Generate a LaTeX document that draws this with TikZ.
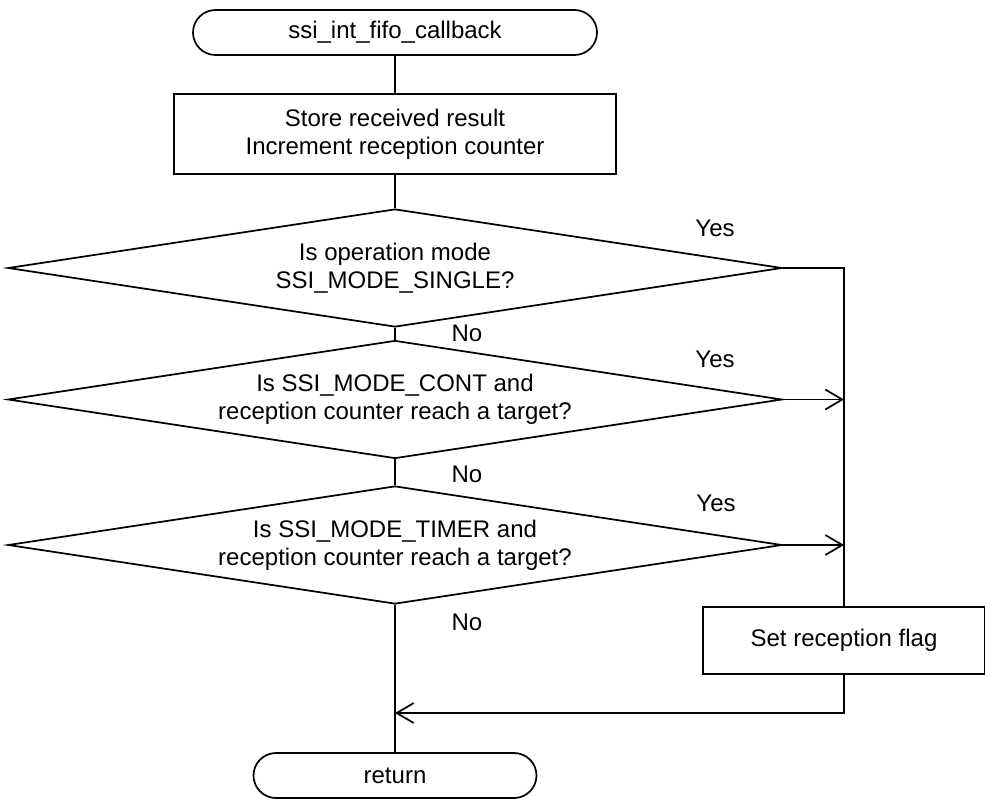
\documentclass[tikz,border=0pt]{standalone}
\usepackage{fontspec}
\setmainfont{Liberation Sans}
\usetikzlibrary{shapes.geometric,shapes.misc,arrows.meta}

\begin{document}
\begin{tikzpicture}[x=0.75pt,y=-0.75pt,line width=1.3pt,
  every node/.style={font=\fontsize{18}{21}\selectfont},
  term/.style={draw,rounded rectangle,minimum height=33.75pt,inner sep=0pt},
  proc/.style={draw,rectangle,align=center,inner sep=0pt},
  dec/.style={draw,diamond,aspect=6.56,align=center,inner sep=0pt,minimum width=580.5pt,minimum height=88.5pt},
  lbl/.style={inner sep=0pt},
  flow/.style={-{Straight Barb[length=12.75pt,width=15pt]}}]
\useasboundingbox (0,0) rectangle (985,799);

\node[term,minimum width=303pt] (start) at (395,32.5) {ssi\_int\_fifo\_callback};
\node[proc,minimum width=331.5pt,minimum height=60pt] (store) at (395,134) {Store received result\\Increment reception counter};
\node[dec] (single) at (395,268) {Is operation mode\\SSI\_MODE\_SINGLE?};
\node[dec] (cont) at (395,399.5) {Is SSI\_MODE\_CONT and\\reception counter reach a target?};
\node[dec] (timer) at (395,545) {Is SSI\_MODE\_TIMER and\\reception counter reach a target?};
\node[proc,minimum width=211.5pt,minimum height=50.25pt] (flag) at (844,640.5) {Set reception flag};
\node[term,minimum width=212.25pt] (ret) at (395,775.5) {return};

\node[lbl] (yes1) at (715,228) {Yes};
\node[lbl] (yes2) at (715,359) {Yes};
\node[lbl] (yes3) at (716,503) {Yes};
\node[lbl] (no1) at (467,333) {No};
\node[lbl] (no2) at (467,474) {No};
\node[lbl] (no3) at (467,622) {No};

\coordinate (merge) at (395,713);

\draw (start) -- (store);
\draw (store) -- (single);
\draw (single) -- (cont);
\draw (cont) -- (timer);
\draw (timer) -- (ret);
\draw (single.east) -- (single.east -| flag.north) -- (flag.north);
\draw[flow] (cont.east) -- (cont.east -| flag.north);
\draw[flow] (timer.east) -- (timer.east -| flag.north);
\draw[flow] (flag.south) |- (merge);
\end{tikzpicture}
\end{document}
